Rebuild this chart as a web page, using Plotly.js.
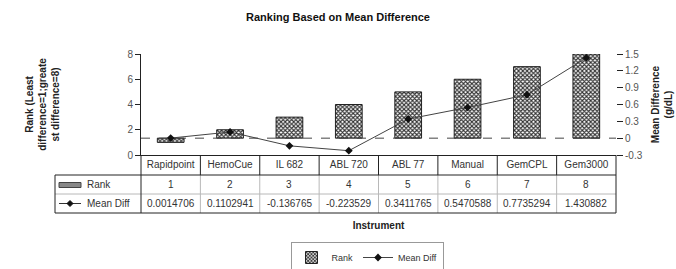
<!DOCTYPE html>
<html>
<head>
<meta charset="utf-8">
<script src="https://cdn.plot.ly/plotly-3.0.1.min.js"></script>
<style>html,body{margin:0;padding:0;background:#fff;}#chart{width:676px;height:269px;}</style>
</head>
<body>
<div id="chart"></div>
<script>
// ---- data ----
const instruments = ["Rapidpoint", "HemoCue", "IL 682", "ABL 720", "ABL 77", "Manual", "GemCPL", "Gem3000"];
const rank = [1, 2, 3, 4, 5, 6, 7, 8];
const meanDiff = [0.0014706, 0.1102941, -0.136765, -0.223529, 0.3411765, 0.5470588, 0.7735294, 1.430882];
const rankTicks = [0, 2, 4, 6, 8];
const diffTicks = [-0.3, 0, 0.3, 0.6, 0.9, 1.2, 1.5];
const diffTickText = ["-0.3", "0", "0.3", "0.6", "0.9", "1.2", "1.5"];

// ---- layout helpers ----
const W = 676, H = 269;
const PL = 141, PR = 616, PT = 54, PB = 155;
const px = p => (p - PL) / (PR - PL);
const py = p => (PB - p) / (PB - PT);
const rankRange = [0, 8];
const diffRange = [-0.3, 1.5];
// bars start where the horizontal (category) axis crosses: the Mean Diff zero line
const barBase = rankRange[0] + (rankRange[1] - rankRange[0]) * (0 - diffRange[0]) / (diffRange[1] - diffRange[0]);

const FONT = "Liberation Sans, Arial, sans-serif";
const dark = "#222", light = "#b8b8b8";

const traces = [
  {
    type: "bar", name: "Rank", x: instruments, y: rank.map(r => r - barBase), base: barBase,
    width: 0.45, yaxis: "y",
    marker: { color: "#fff", line: { color: "#222", width: 1 },
      pattern: { shape: "x", size: 3, solidity: 0.6, fgcolor: "#333", bgcolor: "#fff" } }
  },
  {
    type: "scatter", mode: "lines+markers", name: "Mean Diff", x: instruments, y: meanDiff, yaxis: "y2",
    line: { color: "#444", width: 1 },
    marker: { symbol: "diamond", size: 6, color: "#111" }
  }
];

// table rows (pixel positions)
const T_LEFT = 55, ROW1 = 175, ROW2 = 194, ROW3 = 213;
const colW = (PR - PL) / instruments.length;
const shapes = [];
const L = (x0, y0, x1, y1, c, dash) => shapes.push({ type: "line", xref: "paper", yref: "paper",
  x0: px(x0), y0: py(y0), x1: px(x1), y1: py(y1), line: { color: c, width: 1, dash: dash || "solid" } });

// zero line (dashed) on Mean Diff axis
shapes.push({ type: "line", xref: "paper", yref: "y2", x0: 0, x1: 1, y0: 0, y1: 0,
  line: { color: "#444", width: 1, dash: "dash" } });

// body grid
for (let i = 1; i < instruments.length; i++) {
  const x = PL + colW * i;
  L(x, PB, x, ROW1, dark);
  L(x, ROW1, x, ROW3, light);
}
L(T_LEFT, ROW2, PR, ROW2, light);
L(T_LEFT, ROW1, PR, ROW1, dark);
L(T_LEFT, ROW3, PR, ROW3, dark);
L(T_LEFT, ROW1, T_LEFT, ROW3, dark);
L(PL, PB, PL, ROW3, dark);
L(PR, PB, PR, ROW3, dark);
// key swatches
shapes.push({ type: "rect", xref: "paper", yref: "paper", x0: px(59), x1: px(81), y0: py(187.5), y1: py(182.5),
  fillcolor: "#888", line: { color: "#444", width: 1 } });
L(59, 203.5, 81, 203.5, "#333");
shapes.push({ type: "path", xref: "paper", yref: "paper",
  path: `M ${px(70)} ${py(200.5)} L ${px(73)} ${py(203.5)} L ${px(70)} ${py(206.5)} L ${px(67)} ${py(203.5)} Z`,
  fillcolor: "#111", line: { color: "#111", width: 1 } });

const annotations = [];
const tfont = { family: FONT, size: 10, color: "#333" };
annotations.push({ xref: "paper", yref: "paper", x: px(85), y: py((ROW1 + ROW2) / 2), text: "Rank",
  showarrow: false, xanchor: "left", yanchor: "middle", font: tfont });
annotations.push({ xref: "paper", yref: "paper", x: px(85), y: py((ROW2 + ROW3) / 2), text: "Mean Diff",
  showarrow: false, xanchor: "left", yanchor: "middle", font: tfont });
instruments.forEach((c, i) => {
  annotations.push({ xref: "x", yref: "paper", x: c, y: py((ROW1 + ROW2) / 2), text: String(rank[i]),
    showarrow: false, yanchor: "middle", font: tfont });
  annotations.push({ xref: "x", yref: "paper", x: c, y: py((ROW2 + ROW3) / 2), text: String(meanDiff[i]),
    showarrow: false, yanchor: "middle", font: tfont });
});

const layout = {
  width: W, height: H,
  margin: { l: PL, r: W - PR, t: PT, b: H - PB, autoexpand: false },
  paper_bgcolor: "#fff", plot_bgcolor: "#fff",
  font: { family: FONT, size: 10, color: "#333" },
  title: { text: "<b>Ranking Based on Mean Difference</b>", x: 0.5, xref: "container",
    y: 1 - 17 / H, yanchor: "middle", font: { family: FONT, size: 11, color: "#111" } },
  showlegend: true,
  legend: { orientation: "h", x: px(367), xanchor: "center", y: py(242), yanchor: "top",
    bordercolor: "#999", borderwidth: 1, font: { family: FONT, size: 9, color: "#333" },
    itemwidth: 30, tracegroupgap: 0 },
  bargap: 0.55,
  xaxis: { type: "category", showline: true, linecolor: "#222", linewidth: 1, ticks: "",
    showgrid: false, zeroline: false, tickfont: { family: FONT, size: 10, color: "#333" },
    title: { text: "<b>Instrument</b>", standoff: 52, font: { family: FONT, size: 10, color: "#222" } } },
  yaxis: { range: rankRange, tickvals: rankTicks, showline: true, linecolor: "#222", linewidth: 1,
    ticks: "outside", ticklen: 5, tickcolor: "#222", showgrid: false, zeroline: false,
    tickfont: { family: FONT, size: 10, color: "#555" },
    title: { text: "<b>Rank (Least<br>difference=1;greate<br>st difference=8)</b>", standoff: 65,
      font: { family: FONT, size: 10, color: "#222" } } },
  yaxis2: { overlaying: "y", side: "right", range: diffRange, tickvals: diffTicks, ticktext: diffTickText,
    showline: false, ticks: "outside", ticklen: 6, tickcolor: "#222", showgrid: false, zeroline: false,
    tickfont: { family: FONT, size: 10, color: "#555" },
    title: { text: "<b>Mean Difference<br>(g/dL)</b>", standoff: 10,
      font: { family: FONT, size: 10, color: "#222" } } },
  shapes: shapes,
  annotations: annotations
};

Plotly.newPlot("chart", traces, layout, { staticPlot: true, displayModeBar: false });
</script>
</body>
</html>
